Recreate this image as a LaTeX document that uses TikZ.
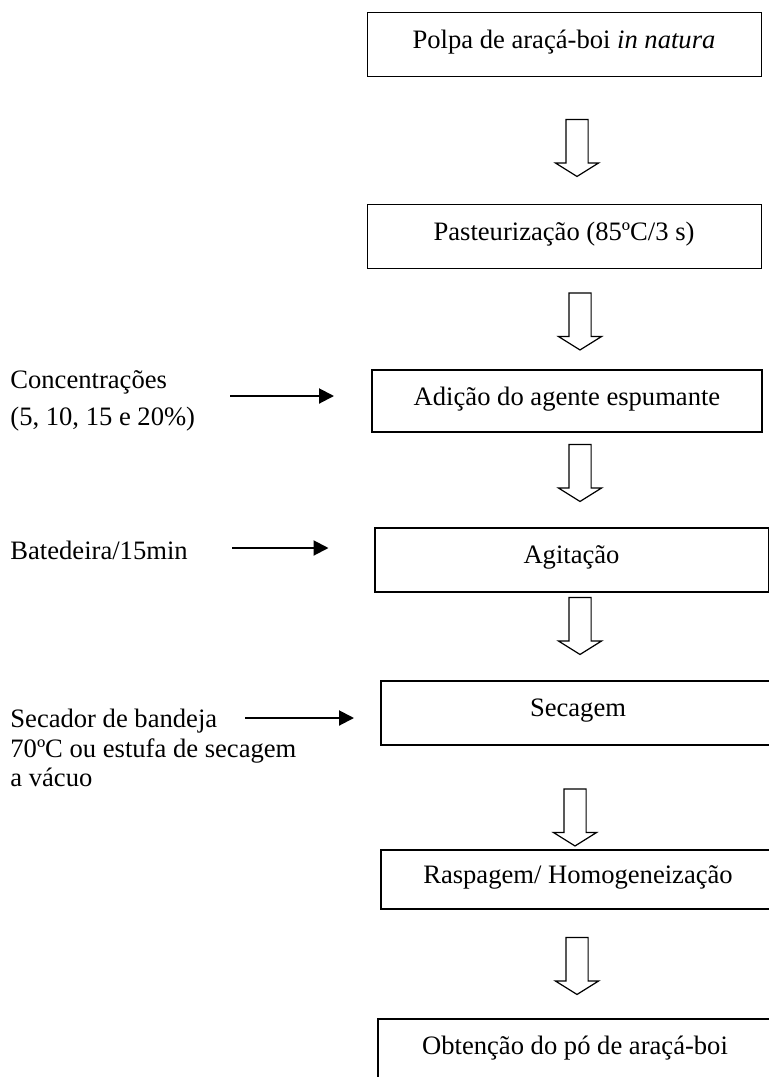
\documentclass[tikz,border=0pt]{standalone}
\usepackage{fontspec}
\setmainfont{Liberation Serif}
\usetikzlibrary{arrows.meta,shapes.arrows}

\tikzset{
  stage/.style={draw, line width=1pt, minimum width=197pt, minimum height=32pt,
                inner sep=0pt, text height=8pt, text depth=4pt,
                font=\fontsize{13.3}{16}\selectfont},
  thinstage/.style={stage, line width=0.5pt},
  flow/.style={single arrow, draw, line width=0.6pt, shape border rotate=270,
               inner sep=5.25pt, single arrow head extend=5.25pt,
               single arrow tip angle=116, minimum height=28.5pt},
  feed/.style={line width=1pt, -{Triangle[length=7.5pt,width=7.5pt]}},
  note/.style={anchor=west, align=left, inner sep=0pt}
}

\begin{document}
\begin{tikzpicture}[x=0.5pt,y=-0.5pt]
  \useasboundingbox (0,0) rectangle (769,1077);

  % process stages
  \node[thinstage] (polpa) at (564,44) {Polpa de araçá-boi \textit{in natura}};
  \node[thinstage] (past)  at (564,236) {Pasteurização (85ºC/3 s)};
  \node[stage, minimum width=195pt, minimum height=31pt] (adic) at (567,401) {Adição do agente espumante};
  \node[stage] (agit) at (571.5,559.5) {Agitação};
  \node[stage] (seca) at (578,712.5) {Secagem};
  \node[stage, minimum height=29.5pt] (rasp) at (578,879.5) {Raspagem/ Homogeneização};
  \node[stage] (obt)  at (575,1050.5) {Obtenção do pó de araçá-boi};

  % hollow arrows between stages
  \node[flow] (a1) at (577,144.5) {};
  \node[flow] (a2) at (580,318) {};
  \node[flow] (a3) at (580,469.5) {};
  \node[flow] (a4) at (580,622.5) {};
  \node[flow] (a5) at (575,814) {};
  \node[flow] (a6) at (577,962.5) {};

  % side inputs
  \node[note, font=\fontsize{13.3}{18.5}\selectfont] (conc) at (10,401)
    {Concentrações\\(5, 10, 15 e 20\%)};
  \node[note, font=\fontsize{13.3}{16}\selectfont] (bat) at (10,550) {Batedeira/15min};
  \node[note, font=\fontsize{13.3}{14.75}\selectfont] (secador) at (10,748)
    {Secador de bandeja\\70ºC ou estufa de secagem\\a vácuo};

  \coordinate (f1) at (230,396);
  \coordinate (f2) at (232,548);
  \coordinate (f3) at (245,718);
  \draw[feed, shorten >=18.5pt] (f1) -- (f1 -| adic.west);
  \draw[feed, shorten >=22.5pt] (f2) -- (f2 -| agit.west);
  \draw[feed, shorten >=13pt] (f3) -- (f3 -| seca.west);
\end{tikzpicture}
\end{document}
